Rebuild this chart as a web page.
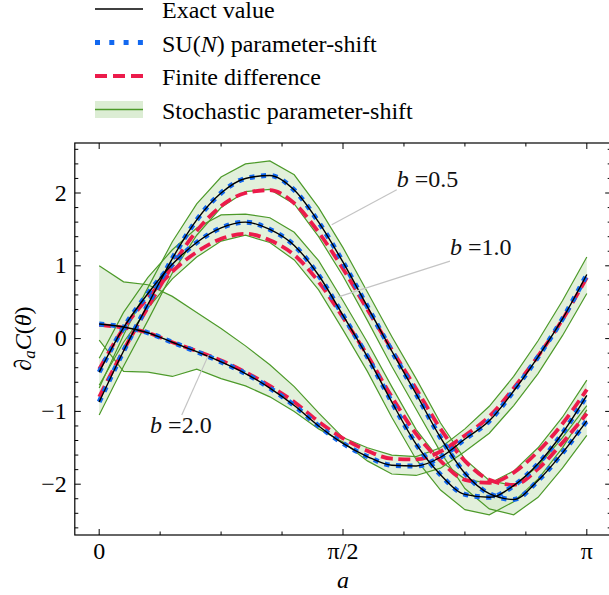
<!DOCTYPE html>
<html lang="en">
    <head>
        <meta charset="utf-8" />
        <title>SU(N) gradient comparison</title>
        <script type="text/javascript" src="https://cdn.jsdelivr.net/npm/d3@7"></script>
        <style type="text/css">
            body {
                margin: 0;
                background: white;
            }
            svg {
                display: block;
                font-family: "Liberation Serif", "Times New Roman", serif;
            }
        </style>
    </head>
    <body>
        <script type="text/javascript">
            // sample grid: a = k*pi/20, k = 0..20
            var aGrid = d3.range(21).map(function(k) {
                return (k * Math.PI) / 20;
            });

            var exact05 = [-0.87, -0.17, 0.47, 1.10, 1.63, 2.00, 2.20, 2.24, 2.04, 1.60, 1.05, 0.44, -0.17, -0.76, -1.36, -1.85, -2.13, -2.21, -1.95, -1.57, -1.13];
            var exact10 = [-0.46, 0.15, 0.62, 1.02, 1.32, 1.52, 1.60, 1.50, 1.28, 0.87, 0.32, -0.25, -0.87, -1.45, -1.87, -2.14, -2.18, -2.02, -1.72, -1.30, -0.78];
            var exact20 = [0.20, 0.16, 0.08, -0.05, -0.18, -0.32, -0.48, -0.68, -0.92, -1.20, -1.44, -1.62, -1.74, -1.75, -1.63, -1.38, -1.13, -0.72, -0.25, 0.27, 0.88];

            var suShift05 = [-0.87, -0.17, 0.47, 1.10, 1.63, 2.00, 2.20, 2.24, 2.04, 1.60, 1.05, 0.44, -0.17, -0.76, -1.36, -1.85, -2.13, -2.21, -1.95, -1.57, -1.13];
            var suShift10 = [-0.46, 0.15, 0.62, 1.02, 1.32, 1.52, 1.60, 1.50, 1.28, 0.87, 0.32, -0.25, -0.87, -1.45, -1.87, -2.14, -2.18, -2.02, -1.72, -1.30, -0.78];
            var suShift20 = [0.20, 0.16, 0.08, -0.05, -0.18, -0.32, -0.48, -0.68, -0.92, -1.20, -1.44, -1.62, -1.74, -1.75, -1.63, -1.38, -1.13, -0.72, -0.25, 0.27, 0.88];

            var finDiff05 = [-0.80, -0.16, 0.43, 1.00, 1.48, 1.82, 2.00, 2.04, 1.86, 1.46, 0.96, 0.40, -0.15, -0.69, -1.24, -1.68, -1.94, -2.01, -1.79, -1.43, -1.03];
            var finDiff10 = [-0.42, 0.14, 0.56, 0.92, 1.19, 1.37, 1.44, 1.35, 1.15, 0.78, 0.29, -0.23, -0.80, -1.31, -1.68, -1.94, -1.98, -1.84, -1.55, -1.17, -0.70];
            var finDiff20 = [0.19, 0.15, 0.08, -0.05, -0.17, -0.30, -0.46, -0.65, -0.87, -1.14, -1.37, -1.54, -1.65, -1.66, -1.55, -1.33, -1.07, -0.68, -0.24, 0.26, 0.84];

            var stochHi05 = [-0.68, 0.05, 0.70, 1.33, 1.85, 2.22, 2.40, 2.44, 2.25, 1.80, 1.25, 0.64, 0.03, -0.55, -1.16, -1.66, -1.95, -2.02, -1.75, -1.36, -0.92];
            var stochLo05 = [-1.05, -0.38, 0.25, 0.90, 1.42, 1.80, 2.02, 2.05, 1.85, 1.40, 0.86, 0.25, -0.38, -0.97, -1.56, -2.06, -2.34, -2.42, -2.18, -1.78, -1.33];
            var stochHi10 = [-0.27, 0.36, 0.84, 1.22, 1.52, 1.70, 1.71, 1.66, 1.46, 1.07, 0.52, -0.05, -0.66, -1.25, -1.68, -1.93, -1.99, -1.82, -1.50, -1.08, -0.57];
            var stochLo10 = [-0.64, -0.05, 0.42, 0.82, 1.12, 1.34, 1.42, 1.32, 1.08, 0.67, 0.12, -0.45, -1.08, -1.66, -2.08, -2.35, -2.42, -2.24, -1.93, -1.50, -0.98];
            var stochHi20 = [1.00, 0.78, 0.74, 0.58, 0.36, 0.14, -0.10, -0.36, -0.66, -1.02, -1.36, -1.50, -1.60, -1.62, -1.50, -1.24, -0.93, -0.52, -0.03, 0.52, 1.12];
            var stochLo20 = [-0.02, -0.45, -0.46, -0.52, -0.42, -0.55, -0.65, -0.80, -1.00, -1.24, -1.42, -1.68, -1.86, -1.88, -1.78, -1.55, -1.30, -0.92, -0.48, 0.04, 0.62];

            var bValues = ["0.5", "1.0", "2.0"];
            var xTickValues = [0, Math.PI / 2, Math.PI];
            var xTickLabels = ["0", "\u03c0/2", "\u03c0"];
            var yTickValues = [-2, -1, 0, 1, 2];
            var legendLabels = ["Exact value", "SU(N) parameter-shift", "Finite difference", "Stochastic parameter-shift"];

            var w = 609;
            var h = 595;
            var plotLeft = 74.8;
            var plotRight = 611.2;
            var plotTop = 143;
            var plotBottom = 535;
            var fontSize = "24px";

            var colExact = "#000000";
            var colSU = "#1268f0";
            var colFD = "#ec1b4b";
            var colStoch = "#4d9a2a";
            var colFill = "#d8ebcf";

            var xScale = d3
                .scaleLinear()
                .domain([-Math.PI / 20, (21 * Math.PI) / 20])
                .range([plotLeft, plotRight]);
            var yScale = d3
                .scaleLinear()
                .domain([-2.698, 2.687])
                .range([plotBottom, plotTop]);

            var svg = d3
                .select("body")
                .append("svg")
                .attr("width", w)
                .attr("height", h);

            svg.append("clipPath")
                .attr("id", "plotclip")
                .append("rect")
                .attr("x", plotLeft)
                .attr("y", plotTop)
                .attr("width", plotRight - plotLeft)
                .attr("height", plotBottom - plotTop);

            var plot = svg.append("g").attr("clip-path", "url(#plotclip)");

            function pts(arr) {
                return arr.map(function(v, i) {
                    return [aGrid[i], v];
                });
            }

            var smooth = d3
                .line()
                .x(function(d) { return xScale(d[0]); })
                .y(function(d) { return yScale(d[1]); })
                .curve(d3.curveMonotoneX);
            var jagged = d3
                .line()
                .x(function(d) { return xScale(d[0]); })
                .y(function(d) { return yScale(d[1]); });
            var band = d3
                .area()
                .x(function(d) { return xScale(d.a); })
                .y0(function(d) { return yScale(d.lo); })
                .y1(function(d) { return yScale(d.hi); });

            var bands = [
                [stochLo05, stochHi05],
                [stochLo10, stochHi10],
                [stochLo20, stochHi20]
            ];

            bands.forEach(function(b) {
                var rows = aGrid.map(function(a, i) {
                    return { a: a, lo: b[0][i], hi: b[1][i] };
                });
                plot.append("path")
                    .attr("d", band(rows))
                    .attr("fill", colFill)
                    .attr("fill-opacity", 0.75);
            });
            bands.forEach(function(b) {
                b.forEach(function(edge) {
                    plot.append("path")
                        .attr("d", jagged(pts(edge)))
                        .attr("fill", "none")
                        .attr("stroke", colStoch)
                        .attr("stroke-width", 1.2);
                });
            });

            [finDiff05, finDiff10, finDiff20].forEach(function(arr) {
                plot.append("path")
                    .attr("d", smooth(pts(arr)))
                    .attr("fill", "none")
                    .attr("stroke", colFD)
                    .attr("stroke-width", 3.8)
                    .attr("stroke-dasharray", "12,5.5");
            });
            [suShift05, suShift10, suShift20].forEach(function(arr) {
                plot.append("path")
                    .attr("d", smooth(pts(arr)))
                    .attr("fill", "none")
                    .attr("stroke", colSU)
                    .attr("stroke-width", 5)
                    .attr("stroke-dasharray", "5,6.5");
            });
            [exact05, exact10, exact20].forEach(function(arr) {
                plot.append("path")
                    .attr("d", smooth(pts(arr)))
                    .attr("fill", "none")
                    .attr("stroke", colExact)
                    .attr("stroke-width", 1.4);
            });

            // annotations: [text a, text v, line start a, v, line end a, v]
            var notes = [
                [1.917, 2.085, 1.917, 2.045, 1.498, 1.563],
                [2.26, 1.147, 2.26, 1.065, 1.541, 0.574],
                [0.328, -1.30, 0.532, -1.05, 0.704, -0.227]
            ];
            notes.forEach(function(n, i) {
                svg.append("line")
                    .attr("x1", xScale(n[2]))
                    .attr("y1", yScale(n[3]))
                    .attr("x2", xScale(n[4]))
                    .attr("y2", yScale(n[5]))
                    .attr("stroke", "#c4c4c4")
                    .attr("stroke-width", 1.2);
                var t = svg.append("text")
                    .attr("x", xScale(n[0]))
                    .attr("y", yScale(n[1]))
                    .attr("font-size", fontSize)
                    .attr("fill", "#111");
                t.append("tspan").attr("font-style", "italic").text("b");
                t.append("tspan").text(" =" + bValues[i]);
            });

            // frame
            svg.append("rect")
                .attr("x", plotLeft)
                .attr("y", plotTop)
                .attr("width", plotRight - plotLeft)
                .attr("height", plotBottom - plotTop)
                .attr("fill", "none")
                .attr("stroke", "#000")
                .attr("stroke-width", 1.2);

            var ticks = svg.append("g").attr("stroke", "#000").attr("stroke-width", 1);
            var xMinor = d3.range(9).map(function(k) { return (k * Math.PI) / 8; });
            xMinor.forEach(function(v, k) {
                var len = k % 4 === 0 ? 6 : 3.5;
                ticks.append("line")
                    .attr("x1", xScale(v)).attr("x2", xScale(v))
                    .attr("y1", plotBottom).attr("y2", plotBottom - len);
                ticks.append("line")
                    .attr("x1", xScale(v)).attr("x2", xScale(v))
                    .attr("y1", plotTop).attr("y2", plotTop + len);
            });
            var yMinor = d3.range(-13, 14).map(function(k) { return k / 5; });
            yMinor.forEach(function(v) {
                var len = Math.abs(v - Math.round(v)) < 1e-6 ? 6 : 3.5;
                ticks.append("line")
                    .attr("x1", plotLeft).attr("x2", plotLeft + len)
                    .attr("y1", yScale(v)).attr("y2", yScale(v));
                ticks.append("line")
                    .attr("x1", plotRight).attr("x2", plotRight - len)
                    .attr("y1", yScale(v)).attr("y2", yScale(v));
            });

            svg.selectAll("text.xtick")
                .data(xTickValues)
                .enter()
                .append("text")
                .attr("class", "xtick")
                .attr("x", function(d) { return xScale(d); })
                .attr("y", 558.5)
                .attr("text-anchor", "middle")
                .attr("font-size", fontSize)
                .text(function(d, i) { return xTickLabels[i]; });

            svg.selectAll("text.ytick")
                .data(yTickValues)
                .enter()
                .append("text")
                .attr("class", "ytick")
                .attr("x", plotLeft - 8)
                .attr("y", function(d) { return yScale(d) + 7.5; })
                .attr("text-anchor", "end")
                .attr("font-size", fontSize)
                .text(function(d) { return d < 0 ? "\u2212" + Math.abs(d) : d; });

            svg.append("text")
                .attr("x", xScale(Math.PI / 2))
                .attr("y", 588)
                .attr("text-anchor", "middle")
                .attr("font-size", fontSize)
                .attr("font-style", "italic")
                .text("a");

            var ylab = svg.append("text")
                .attr("transform", "translate(31," + yScale(0) + ") rotate(-90)")
                .attr("text-anchor", "middle")
                .attr("font-size", fontSize);
            ylab.append("tspan").attr("font-style", "italic").text("\u2202");
            ylab.append("tspan").attr("font-style", "italic").attr("font-size", "17px").attr("dy", 4).text("a");
            ylab.append("tspan").attr("font-style", "italic").attr("dy", -4).text("C");
            ylab.append("tspan").text("(");
            ylab.append("tspan").attr("font-style", "italic").text("\u03b8");
            ylab.append("tspan").text(")");

            // legend
            var legX0 = 95;
            var legX1 = 143;
            var rowY = [9, 42.5, 76, 109.5];
            var leg = svg.append("g");
            leg.append("line")
                .attr("x1", legX0).attr("x2", legX1)
                .attr("y1", rowY[0]).attr("y2", rowY[0])
                .attr("stroke", colExact).attr("stroke-width", 1.4);
            leg.append("line")
                .attr("x1", legX0).attr("x2", legX1)
                .attr("y1", rowY[1]).attr("y2", rowY[1])
                .attr("stroke", colSU).attr("stroke-width", 5)
                .attr("stroke-dasharray", "5,9.3");
            leg.append("line")
                .attr("x1", legX0).attr("x2", legX1)
                .attr("y1", rowY[2]).attr("y2", rowY[2])
                .attr("stroke", colFD).attr("stroke-width", 3.8)
                .attr("stroke-dasharray", "12,6");
            leg.append("rect")
                .attr("x", legX0).attr("y", rowY[3] - 8.5)
                .attr("width", legX1 - legX0).attr("height", 17)
                .attr("fill", colFill).attr("fill-opacity", 0.9);
            leg.append("line")
                .attr("x1", legX0).attr("x2", legX1)
                .attr("y1", rowY[3]).attr("y2", rowY[3])
                .attr("stroke", colStoch).attr("stroke-width", 1.4);

            legendLabels.forEach(function(lab, i) {
                var t = leg.append("text")
                    .attr("x", 162)
                    .attr("y", rowY[i] + 9)
                    .attr("font-size", fontSize);
                if (i === 1) {
                    t.append("tspan").text("SU(");
                    t.append("tspan").attr("font-style", "italic").text("N");
                    t.append("tspan").text(") parameter-shift");
                } else {
                    t.text(lab);
                }
            });
        </script>
    </body>
</html>
